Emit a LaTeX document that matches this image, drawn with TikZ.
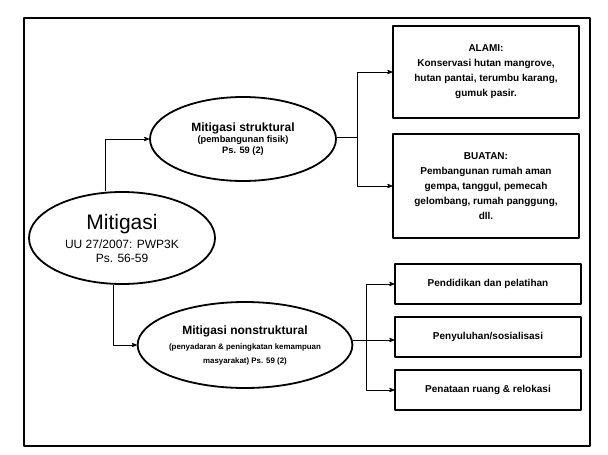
\documentclass[tikz,border=0pt]{standalone}
\usepackage{fontspec}
\setmainfont{Liberation Sans}
\usetikzlibrary{arrows,positioning,shapes.geometric}

\newcommand{\ukuran}[1]{\fontsize{#1}{1.2\dimexpr#1pt}\selectfont}

\begin{document}
\begin{tikzpicture}[x=1pt,y=-1pt,>=stealth',line join=round,
  oval/.style={ellipse,draw,line width=1.8pt,inner sep=0pt,align=center},
  kotak/.style={rectangle,draw,line width=1.3pt,minimum width=186pt,align=center,inner sep=2pt,
    font=\bfseries\fontsize{10}{15}\selectfont},
  panah/.style={->,line width=0.8pt}]
\useasboundingbox (0,0) rectangle (608,455);
\draw[line width=1.4pt] (24,18) rectangle (590,446);

\node[oval,minimum width=186pt,minimum height=92pt,font=\fontsize{12}{14}\selectfont] (mit) at (122,238)
  {\ukuran{21}Mitigasi\\[5pt]
   UU 27/2007: PWP3K\\Ps. 56-59};
\node[oval,minimum width=186pt,minimum height=84pt,font=\bfseries\fontsize{9.3}{11}\selectfont] (str) at (243,139)
  {\ukuran{12}Mitigasi struktural\\
   (pembangunan fisik)\\Ps. 59 (2)};
\node[oval,minimum width=208pt,minimum height=86pt,font=\bfseries\fontsize{7.9}{14}\selectfont] (non) at (245,345)
  {\ukuran{12}Mitigasi nonstruktural\\[1pt]
   (penyadaran \& peningkatan kemampuan\\masyarakat) Ps. 59 (2)};

\node[kotak,minimum height=92pt] (alami) at (486,72)
  {ALAMI:\\Konservasi hutan mangrove,\\hutan pantai, terumbu karang,\\gumuk pasir.};
\node[kotak,minimum height=104pt] (buatan) at (486,186)
  {BUATAN:\\Pembangunan rumah aman\\gempa, tanggul, pemecah\\gelombang, rumah panggung,\\dll.};
\node[kotak,minimum height=40pt] (didik) at (488,284) {Pendidikan dan pelatihan};
\node[kotak,minimum height=40pt] (suluh) at (488,337) {Penyuluhan/sosialisasi};
\node[kotak,minimum height=40pt] (tata) at (488,390) {Penataan ruang \& relokasi};

\coordinate (sj) at (357,137);
\coordinate (nj) at (366,340);

% mitigasi ke cabang
\draw[panah] ([xshift=-17pt]mit.north) |- (str.west);
\draw[panah] ([xshift=-9pt]mit.south) |- (non.west);
% struktural
\draw[line width=0.8pt] (str.east |- sj) -- (sj);
\draw[panah] (sj) |- (alami.west);
\draw[panah] (sj) |- (buatan.west);
% nonstruktural
\draw[panah] (non.east |- nj) -- (nj -| suluh.west);
\draw[panah] (nj) |- (didik.west);
\draw[panah] (nj) |- (tata.west);
\end{tikzpicture}
\end{document}
